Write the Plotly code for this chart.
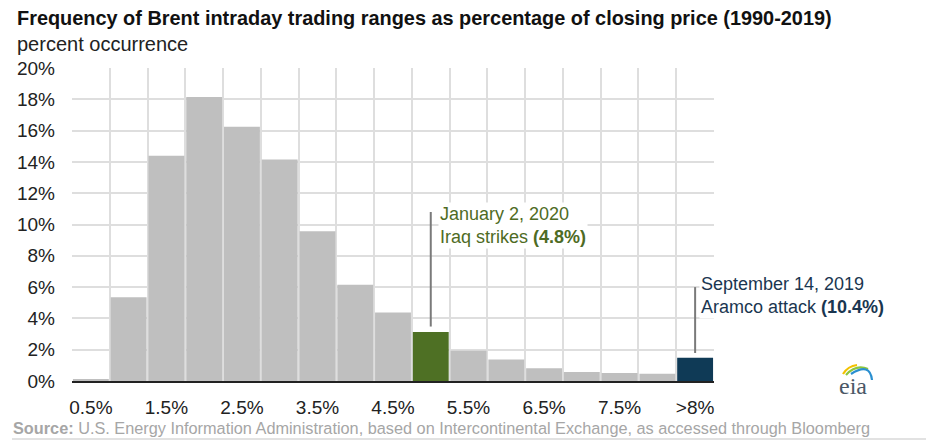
import plotly.graph_objects as go

# ---- data ----
categories = ["0.5%", "1.0%", "1.5%", "2.0%", "2.5%", "3.0%", "3.5%", "4.0%", "4.5%",
              "5.0%", "5.5%", "6.0%", "6.5%", "7.0%", "7.5%", "8.0%", ">8%"]
occurrence = [0.13, 5.35, 14.4, 18.15, 16.25, 14.15, 9.57, 6.15, 4.38,
              3.13, 1.93, 1.38, 0.82, 0.57, 0.51, 0.47, 1.49]
tick_labels = ["0.5%", "", "1.5%", "", "2.5%", "", "3.5%", "", "4.5%",
               "", "5.5%", "", "6.5%", "", "7.5%", "", ">8%"]
highlight = {"5.0%": "#4e7024", ">8%": "#0f3a56"}
base_color = "#bfbfbf"

iraq_cat, iraq_text = "5.0%", "January 2, 2020<br>Iraq strikes <b>(4.8%)</b>"
aramco_cat, aramco_text = ">8%", "September 14, 2019<br>Aramco attack <b>(10.4%)</b>"

colors = [highlight.get(c, base_color) for c in categories]
positions = list(range(len(categories)))
boundaries = [p - 0.5 for p in positions] + [positions[-1] + 0.5]

W, H = 939, 447
L, R, T, B = 72, 225, 68, 66
pw, ph = W - L - R, H - T - B
def px_x(p): return (p - L) / pw
def px_y(p): return (H - B - p) / ph

FONT = "Liberation Sans, Arial, sans-serif"

fig = go.Figure()
fig.add_trace(go.Bar(x=positions, y=occurrence,
                     marker=dict(color=colors, line=dict(width=0)),
                     customdata=categories, hovertemplate="%{customdata}: %{y}%<extra></extra>"))

idx = {c: i for i, c in enumerate(categories)}
val = dict(zip(categories, occurrence))

shapes = []
annotations = []
# Iraq annotation
shapes.append(dict(type="line", xref="x", yref="y", x0=idx[iraq_cat], x1=idx[iraq_cat],
                   y0=val[iraq_cat] + 0.35, y1=10.8, line=dict(color="#7a7a7a", width=2)))
annotations.append(dict(x=idx[iraq_cat], y=11.45, xref="x", yref="y", xanchor="left", yanchor="top",
                        xshift=7, text=iraq_text, showarrow=False, align="left", bgcolor="white",
                        font=dict(family=FONT, size=18, color="#4e6b24")))
# Aramco annotation
shapes.append(dict(type="line", xref="x", yref="y", x0=idx[aramco_cat], x1=idx[aramco_cat],
                   y0=val[aramco_cat] + 0.3, y1=6.0, line=dict(color="#7a7a7a", width=2)))
annotations.append(dict(x=idx[aramco_cat], y=6.95, xref="x", yref="y", xanchor="left", yanchor="top",
                        xshift=4, text=aramco_text, showarrow=False, align="left", bgcolor="white",
                        font=dict(family=FONT, size=18, color="#1a3650")))

# subtitle
annotations.append(dict(x=px_x(15), y=px_y(44), xref="paper", yref="paper", xanchor="left",
                        yanchor="middle", text="percent occurrence", showarrow=False,
                        font=dict(family=FONT, size=20, color="#222")))
# source
annotations.append(dict(x=px_x(11), y=px_y(428), xref="paper", yref="paper", xanchor="left",
                        yanchor="middle",
                        text="<b>Source:</b> U.S. Energy Information Administration, based on Intercontinental Exchange, as accessed through Bloomberg",
                        showarrow=False, font=dict(family=FONT, size=16.3, color="#a6a6a6")))
shapes.append(dict(type="line", xref="paper", yref="paper", x0=px_x(12), x1=px_x(926),
                   y0=px_y(439), y1=px_y(439), line=dict(color="#d9d9d9", width=1.5)))
# eia logo
annotations.append(dict(x=px_x(853), y=px_y(386), xref="paper", yref="paper", xanchor="center",
                        yanchor="middle", text="eia", showarrow=False,
                        font=dict(family="Liberation Serif, DejaVu Serif, serif", size=24, color="#4b5866")))
def arc(p0, c, p1, color):
    return dict(type="path", xref="paper", yref="paper",
                path=f"M {px_x(p0[0])},{px_y(p0[1])} Q {px_x(c[0])},{px_y(c[1])} {px_x(p1[0])},{px_y(p1[1])}",
                line=dict(color=color, width=2.2))
shapes.append(arc((843, 374), (848, 366), (857, 365), "#f2c200"))
shapes.append(arc((846, 375), (856, 364), (868, 369), "#8cc63f"))
shapes.append(arc((851, 374), (870, 362), (872, 380), "#2a8fd0"))

xrange = [boundaries[0], boundaries[-1]]

fig.update_layout(
    width=W, height=H,
    margin=dict(l=L, r=R, t=T, b=B, pad=0),
    paper_bgcolor="white", plot_bgcolor="white",
    bargap=0.05,
    showlegend=False,
    title=dict(text="<b>Frequency of Brent intraday trading ranges as percentage of closing price (1990-2019)</b>",
               xref="container", yref="container", x=17 / W, xanchor="left",
               y=1 - 18 / H, yanchor="middle", pad=dict(l=0, r=0, t=0, b=0),
               font=dict(family=FONT, size=19.9, color="#111")),
    xaxis=dict(range=xrange, tickmode="array", tickvals=positions, ticktext=tick_labels, tickangle=0,
               showgrid=False, ticks="", zeroline=False,
               showline=True, linecolor="#222", linewidth=2,
               minor=dict(tickmode="array", tickvals=boundaries, showgrid=True,
                          gridcolor="#dedede", gridwidth=2, ticks=""),
               tickfont=dict(family=FONT, size=19, color="#222"), ticklabelstandoff=8,
               fixedrange=True),
    yaxis=dict(range=[0, 20], dtick=2, ticksuffix="%", showgrid=True, gridcolor="#dedede",
               gridwidth=2, zeroline=False, ticks="", ticklabelstandoff=16,
               tickfont=dict(family=FONT, size=19, color="#222"), fixedrange=True),
    shapes=shapes,
    annotations=annotations,
)

fig.write_html("out.html", config={"displayModeBar": False},
               post_script="document.body.style.margin='0';")
